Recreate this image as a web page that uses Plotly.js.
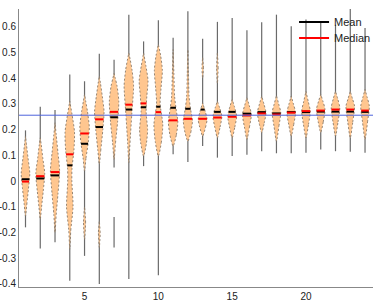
<!DOCTYPE html>
<html>
<head>
<meta charset="utf-8">
<script src="https://cdn.plot.ly/plotly-3.0.1.min.js"></script>
<style>html,body{margin:0;padding:0;background:#fff;}#chart{width:382px;height:304px;}</style>
</head>
<body>
<div id="chart"></div>
<script>
// ---- data ----
const positions = [1,2,3,4,5,6,7,8,9,10,11,12,13,14,15,16,17,18,19,20,21,22,23,24];
const means   = [0.007,0.010,0.022,0.061,0.145,0.210,0.248,0.278,0.287,0.289,0.285,0.281,0.278,0.269,0.269,0.262,0.268,0.263,0.268,0.268,0.270,0.270,0.270,0.269];
const medians = [-0.002,0.019,0.035,0.104,0.185,0.240,0.269,0.297,0.302,0.268,0.236,0.242,0.242,0.247,0.250,0.255,0.263,0.259,0.266,0.272,0.274,0.278,0.278,0.274];
const whiskerLow  = [-0.180,-0.262,-0.238,-0.388,-0.291,-0.400,0.053,-0.381,0.058,-0.366,0.104,0.074,0.136,0.091,0.097,0.102,0.116,0.108,0.108,0.110,0.123,0.116,0.114,0.110];
const whiskerHigh = [0.197,0.289,0.276,0.414,0.388,0.495,0.472,0.647,0.543,0.625,0.557,0.660,0.553,0.619,0.634,0.586,0.617,0.647,0.602,0.628,0.621,0.608,0.673,0.595];
// detached whisker pieces
const extraWhiskerPos  = [7];
const extraWhiskerLow  = [-0.258];
const extraWhiskerHigh = [-0.140];
// violin density outlines: segment -> position, y knots, half-widths (x units)
const segPos = [1,2,3,4,5,5,6,6,7,8,9,10,11,12,13,13,14,14,15,16,17,18,19,20,21,22,23,24];
const segY = [
  [-0.136,-0.09,-0.03,0.03,0.09,0.14,0.175],
  [-0.149,-0.10,-0.04,0.03,0.09,0.14,0.168],
  [-0.200,-0.13,-0.05,0.04,0.11,0.18,0.227],
  [-0.265,-0.19,-0.10,0.00,0.05,0.12,0.19,0.26,0.31],
  [0.039,0.09,0.15,0.21,0.27,0.31,0.337],
  [-0.227,-0.16,-0.10],
  [0.065,0.12,0.20,0.27,0.33,0.38,0.408],
  [-0.258,-0.20,-0.156],
  [0.084,0.15,0.23,0.31,0.37,0.40,0.418],
  [0.071,0.15,0.26,0.37,0.43,0.47,0.498],
  [0.097,0.15,0.20,0.27,0.33,0.39,0.45,0.498],
  [0.097,0.15,0.22,0.30,0.36,0.43,0.49,0.531],
  [0.136,0.18,0.23,0.28,0.33,0.42,0.511],
  [0.155,0.19,0.235,0.28,0.33,0.42,0.511],
  [0.175,0.21,0.24,0.27,0.304],
  [0.40,0.44,0.48],
  [0.168,0.21,0.252,0.285,0.31],
  [0.38,0.44,0.50],
  [0.168,0.21,0.252,0.29,0.317],
  [0.162,0.21,0.259,0.295,0.324],
  [0.188,0.225,0.266,0.30,0.33],
  [0.155,0.215,0.266,0.30,0.333],
  [0.175,0.22,0.266,0.30,0.33],
  [0.168,0.22,0.272,0.31,0.349],
  [0.189,0.23,0.278,0.31,0.337],
  [0.175,0.23,0.285,0.32,0.349],
  [0.168,0.23,0.291,0.32,0.349],
  [0.162,0.23,0.291,0.325,0.356]
];
const segW = [
  [0,0.09,0.20,0.29,0.17,0.07,0],
  [0,0.09,0.20,0.30,0.17,0.07,0],
  [0,0.08,0.20,0.31,0.20,0.08,0],
  [0,0.07,0.22,0.14,0.15,0.28,0.32,0.15,0],
  [0,0.10,0.25,0.32,0.20,0.08,0],
  [0,0.07,0],
  [0,0.10,0.24,0.32,0.20,0.08,0],
  [0,0.06,0],
  [0,0.10,0.24,0.32,0.20,0.08,0],
  [0,0.08,0.20,0.32,0.22,0.10,0],
  [0,0.20,0.27,0.17,0.22,0.30,0.15,0],
  [0,0.20,0.30,0.12,0.18,0.27,0.15,0],
  [0,0.22,0.32,0.20,0.10,0.05,0],
  [0,0.20,0.31,0.18,0.08,0.04,0],
  [0,0.20,0.30,0.18,0],
  [0,0.05,0],
  [0,0.18,0.30,0.15,0],
  [0,0.05,0],
  [0,0.18,0.30,0.15,0],
  [0,0.17,0.30,0.15,0],
  [0,0.17,0.29,0.15,0],
  [0,0.17,0.29,0.15,0],
  [0,0.17,0.29,0.15,0],
  [0,0.17,0.29,0.15,0],
  [0,0.17,0.29,0.15,0],
  [0,0.17,0.29,0.15,0],
  [0,0.17,0.29,0.15,0],
  [0,0.17,0.29,0.15,0]
];
const refLine = 0.256;
const yTickVals = [-0.4,-0.3,-0.2,-0.1,0,0.1,0.2,0.3,0.4,0.5,0.6];
const yTickText = ['-0.4','-0.3','-0.2','-0.1','0','0.1','0.2','0.3','0.4','0.5','0.6'];
const xTickVals = [5,10,15,20];
const xTickText = ['5','10','15','20'];

// ---- build traces ----
const traces = [];
// whiskers
const wx = [], wy = [];
positions.forEach((p,i)=>{ wx.push(p,p,null); wy.push(whiskerLow[i],whiskerHigh[i],null); });
extraWhiskerPos.forEach((p,i)=>{ wx.push(p,p,null); wy.push(extraWhiskerLow[i],extraWhiskerHigh[i],null); });
traces.push({x:wx,y:wy,mode:'lines',line:{color:'#6a6a6a',width:1.2},showlegend:false,hoverinfo:'skip'});

// violins
segPos.forEach((p,s)=>{
  const ys = segY[s], ws = segW[s];
  const px = [], py = [];
  for (let k=0;k<ys.length;k++){ px.push(p+ws[k]); py.push(ys[k]); }
  for (let k=ys.length-1;k>=0;k--){ px.push(p-ws[k]); py.push(ys[k]); }
  traces.push({x:px,y:py,mode:'lines',fill:'toself',fillcolor:'#ffc68f',
    line:{color:'#8a7a6a',width:0.9,dash:'2px,2px',shape:'spline',smoothing:0.7},
    showlegend:false,hoverinfo:'skip'});
});

function halfWidthAt(pos, y){
  let best = 0;
  segPos.forEach((p,s)=>{
    if (p!==pos) return;
    const ys = segY[s], ws = segW[s];
    for (let k=0;k<ys.length-1;k++){
      if (y>=ys[k] && y<=ys[k+1]){
        const t=(y-ys[k])/(ys[k+1]-ys[k]);
        best=Math.max(best, ws[k]+t*(ws[k+1]-ws[k]));
      }
    }
  });
  return Math.max(best,0.12);
}
function statLines(vals){
  const x=[],y=[];
  positions.forEach((p,i)=>{ const w=halfWidthAt(p,vals[i]); x.push(p-w,p+w,null); y.push(vals[i],vals[i],null); });
  return {x,y};
}
const mL = statLines(means), dL = statLines(medians);
traces.push({x:mL.x,y:mL.y,mode:'lines',name:'Mean',legend:'legend',line:{color:'#000000',width:2},hoverinfo:'skip'});
traces.push({x:dL.x,y:dL.y,mode:'lines',name:'Median',legend:'legend2',line:{color:'#ff0000',width:2},hoverinfo:'skip'});

const legendBase = {xanchor:'left',yanchor:'middle',bgcolor:'rgba(0,0,0,0)',borderwidth:0,
                    font:{size:11,color:'#222'},itemwidth:30};
const layout = {
  width:382, height:304,
  margin:{l:19,r:9,t:9,b:17,pad:0,autoexpand:false},
  paper_bgcolor:'#ffffff', plot_bgcolor:'#ffffff',
  font:{family:'"Liberation Sans", Arial, sans-serif',size:10,color:'#222'},
  showlegend:true,
  legend:Object.assign({x:0.777,y:0.953},legendBase),
  legend2:Object.assign({x:0.777,y:0.896},legendBase),
  xaxis:{range:[0.56,24.54],showgrid:false,zeroline:false,showline:true,linecolor:'#888',linewidth:1,
         ticks:'',tickvals:xTickVals,ticktext:xTickText,fixedrange:true},
  yaxis:{range:[-0.412,0.669],showgrid:false,zeroline:false,showline:true,linecolor:'#888',linewidth:1,
         ticks:'',tickvals:yTickVals,ticktext:yTickText,fixedrange:true},
  shapes:[{type:'line',xref:'paper',x0:0,x1:1,yref:'y',y0:refLine,y1:refLine,
           line:{color:'#4f64dc',width:1},layer:'above'}]
};
Plotly.newPlot('chart',traces,layout,{staticPlot:true,displayModeBar:false});
</script>
</body>
</html>
